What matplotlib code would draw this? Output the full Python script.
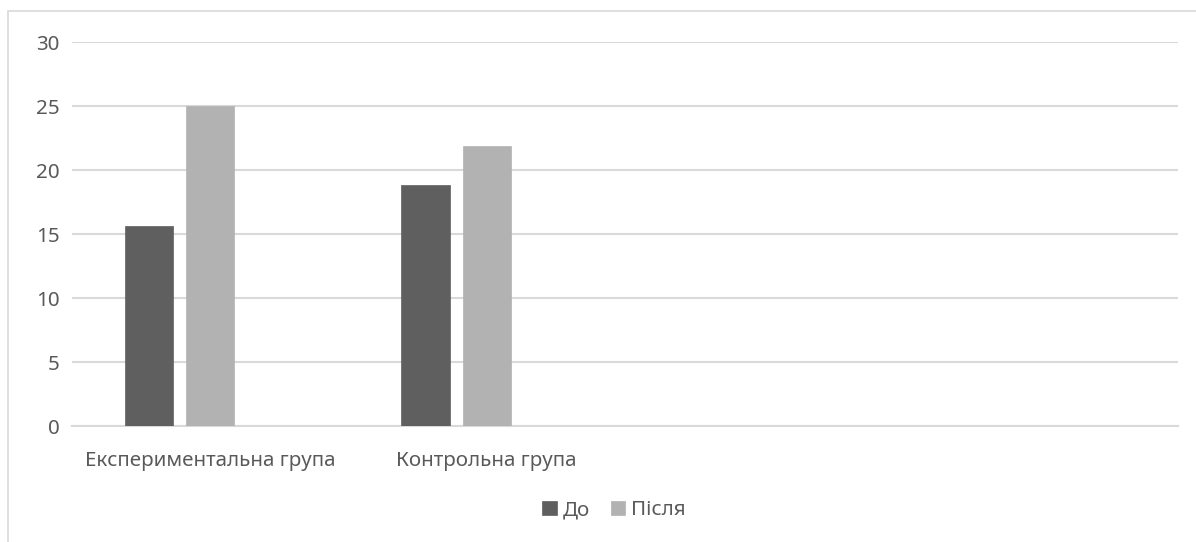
import matplotlib
matplotlib.use("Agg")
import matplotlib.pyplot as plt
from matplotlib.patches import Rectangle
import numpy as np

plt.rcParams['font.family'] = ['Noto Sans', 'DejaVu Sans']

categories = ["Експериментальна група", "Контрольна група", "", ""]
series_names = ["До", "Після"]
before = [15.6, 18.8, np.nan, np.nan]
after = [25.0, 21.9, np.nan, np.nan]
y_ticks = [0, 5, 10, 15, 20, 25, 30]

colors = ["#5f5f5f", "#b2b2b2"]
text_color = "#595959"
grid_color = "#d9d9d9"

W, H = 1196, 542
fig = plt.figure(figsize=(W / 100, H / 100), dpi=100)
ax = fig.add_axes([72 / W, 1 - 426 / H, (1178 - 72) / W, (426 - 42) / H])

# chart area outline
fig.patches.append(Rectangle((8 / W, -0.1), 1.2, 1 - 11 / H + 0.1,
                             transform=fig.transFigure, fill=False,
                             edgecolor=grid_color, linewidth=1.2))

x = np.arange(len(categories))
bar_w = 0.1754
step = 0.2224
# three slots per category; the third one is left empty
offsets = [-step, 0.0]
for vals, off, col, name in zip([before, after], offsets, colors, series_names):
    ax.bar(x + off, vals, width=bar_w, color=col, label=name, zorder=3,
           edgecolor=col, linewidth=0.5)

ax.set_xlim(-0.5, len(categories) - 0.5)
ax.set_ylim(0, 30)
ax.set_yticks(y_ticks)
ax.set_xticks(x)
ax.set_xticklabels(categories)
ax.yaxis.grid(True, color=grid_color, linewidth=1.5, zorder=0)
ax.set_axisbelow(True)
for s in ["top", "right", "left"]:
    ax.spines[s].set_visible(False)
ax.spines["bottom"].set_color(grid_color)
ax.spines["bottom"].set_linewidth(1.5)
ax.tick_params(axis="both", length=0, labelsize=14.8, colors=text_color)
ax.tick_params(axis="y", pad=9)
ax.tick_params(axis="x", pad=18)

leg = fig.legend(loc="center", bbox_to_anchor=(614 / W, 1 - 510 / H), ncol=2,
                 frameon=False, fontsize=14.8, handlelength=0.7, handleheight=0.7,
                 handletextpad=0.3, columnspacing=1.0)
for t in leg.get_texts():
    t.set_color(text_color)

fig.savefig("out.png", dpi=100, facecolor="white")
